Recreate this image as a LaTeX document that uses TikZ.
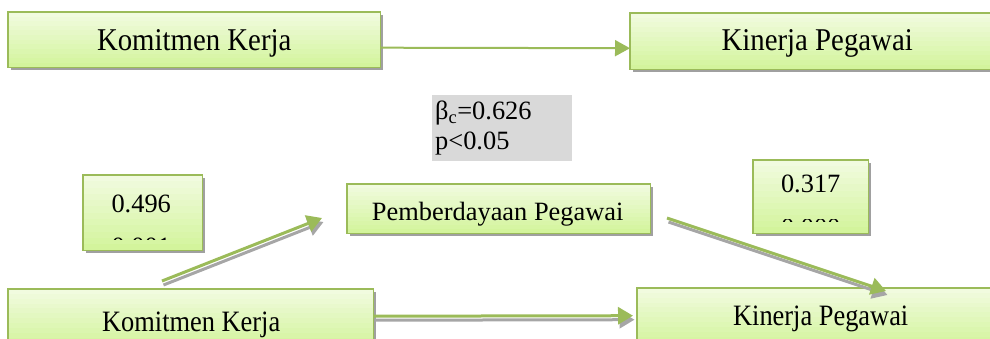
\documentclass[tikz,border=0pt]{standalone}
\usepackage{fontspec}
\setmainfont{Liberation Serif}
\usetikzlibrary{arrows.meta,calc}
\definecolor{boxline}{HTML}{9BBB59}
\definecolor{boxtop}{HTML}{F1FBDF}
\definecolor{boxbot}{HTML}{D3F49C}
\definecolor{shgray}{HTML}{A0A0A0}
\definecolor{argray}{HTML}{A6A6A6}
\definecolor{pbox}{HTML}{D9D9D9}
\newcommand{\bigtxt}{\fontsize{28.8}{34}\selectfont}
\newcommand{\midtxt}{\fontsize{26.4}{31}\selectfont}
\newcommand{\greenfill}[1]{%
  \fill[shgray] ($(#1.north west)+(3,3)$) rectangle ($(#1.south east)+(3,3)$);
  \foreach \i in {0,...,11}{
    \pgfmathtruncatemacro{\pc}{\i*100/11}
    \fill[boxbot!\pc!boxtop]
      ($(#1.north west)!{\i/12}!(#1.south west)$) rectangle
      ($(#1.north east)!{(\i+1)/12+0.01}!(#1.south east)$);
  }
  \draw[boxline, line width=1.5pt] (#1.north west) rectangle (#1.south east);
}
\begin{document}
\begin{tikzpicture}[x=1pt,y=-1pt,
  greenbox/.style={anchor=north west, inner sep=0pt, draw=none},
  txt/.style={anchor=base, inner sep=0pt},
  greenarrow/.style={draw=boxline, line width=3pt, -{Triangle[length=15pt,width=17pt]}},
  grayarrow/.style={draw=argray, line width=3pt, -{Triangle[length=15pt,width=17pt]},
    transform canvas={xshift=1.5pt,yshift=-4pt}},
  thinarrow/.style={draw=boxline, line width=2pt, -{Triangle[length=15pt,width=16pt]}}]
\useasboundingbox (0,0) rectangle (990,338);

% box outlines (named)
\node[greenbox, minimum width=372pt, minimum height=55pt] (kk1) at (8,12) {};
\node[greenbox, minimum width=374pt, minimum height=56pt] (kp1) at (630,13) {};
\node[greenbox, minimum width=119pt, minimum height=75pt] (b496) at (83,175) {};
\node[greenbox, minimum width=303pt, minimum height=49pt] (pp) at (347,184) {};
\node[greenbox, minimum width=115pt, minimum height=73pt] (b317) at (753,160) {};
\node[greenbox, minimum width=365pt, minimum height=58pt] (kk2) at (8,289) {};
\node[greenbox, minimum width=367pt, minimum height=58pt] (kp2) at (637,288) {};
\greenfill{kk1}
\greenfill{kp1}
\greenfill{b496}
\greenfill{pp}
\greenfill{b317}
\greenfill{kk2}
\greenfill{kp2}

% top row
\node[txt, font=\bigtxt] (kk1t) at ($(kk1.north)+(0,38)$) {\scalebox{1}[1.1]{Komitmen Kerja}};
\node[txt, font=\bigtxt] (kp1t) at ($(kp1.north)+(0,37)$) {\scalebox{1}[1.1]{Kinerja Pegawai}};
\draw[thinarrow] ($(kk1.east)+(0,8)$) -- ($(kp1.west)+(0,7)$);

% beta box
\node[fill=pbox, anchor=north west, minimum width=140pt, minimum height=66pt,
  text width=134pt, inner xsep=3pt, inner ysep=0pt, align=left, font=\midtxt] (beta) at (432,95)
  {β\textsubscript{c}=0.626\\[-1pt]p<0.05};

% middle row
\node[txt, font=\midtxt] (t496) at ($(b496.north)+(-1.5,37)$) {0.496};
\begin{scope}
  \clip (90,237) rectangle (195,239.5);
  \node[txt, font=\midtxt] (p496) at ($(b496.north)+(-1.5,80)$) {0.001};
\end{scope}
\node[txt, font=\midtxt] (ppt) at ($(pp.north)+(-1,36)$) {Pemberdayaan Pegawai};
\node[txt, font=\midtxt] (t317) at ($(b317.north)+(0,32)$) {0.317};
\begin{scope}
  \clip (760,219) rectangle (862,221.5);
  \node[txt, font=\midtxt] (p317) at ($(b317.north)+(0,76.8)$) {0.000};
\end{scope}

% bottom row
\node[txt, font=\midtxt] (kk2t) at ($(kk2.north)+(0.5,42)$) {\scalebox{1}[1.12]{Komitmen Kerja}};
\node[txt, font=\midtxt] (kp2t) at ($(kp2.north)+(0,37)$) {\scalebox{1}[1.12]{Kinerja Pegawai}};

% connectors
\coordinate (a1s) at (162,281);
\coordinate (a1e) at (322,218);
\coordinate (a2s) at (667,218);
\coordinate (a2e) at (886,291);

\draw[grayarrow] (a1s) -- (a1e);
\draw[greenarrow] (a1s) -- (a1e);
\draw[grayarrow] (a2s) -- (a2e);
\draw[greenarrow] (a2s) -- (a2e);
\draw[grayarrow] ($(kk2.east)+(0,-2)$) -- ($(kp2.west)+(-4,-1.5)$);
\draw[greenarrow] ($(kk2.east)+(0,-2)$) -- ($(kp2.west)+(-4,-1.5)$);
\end{tikzpicture}
\end{document}
